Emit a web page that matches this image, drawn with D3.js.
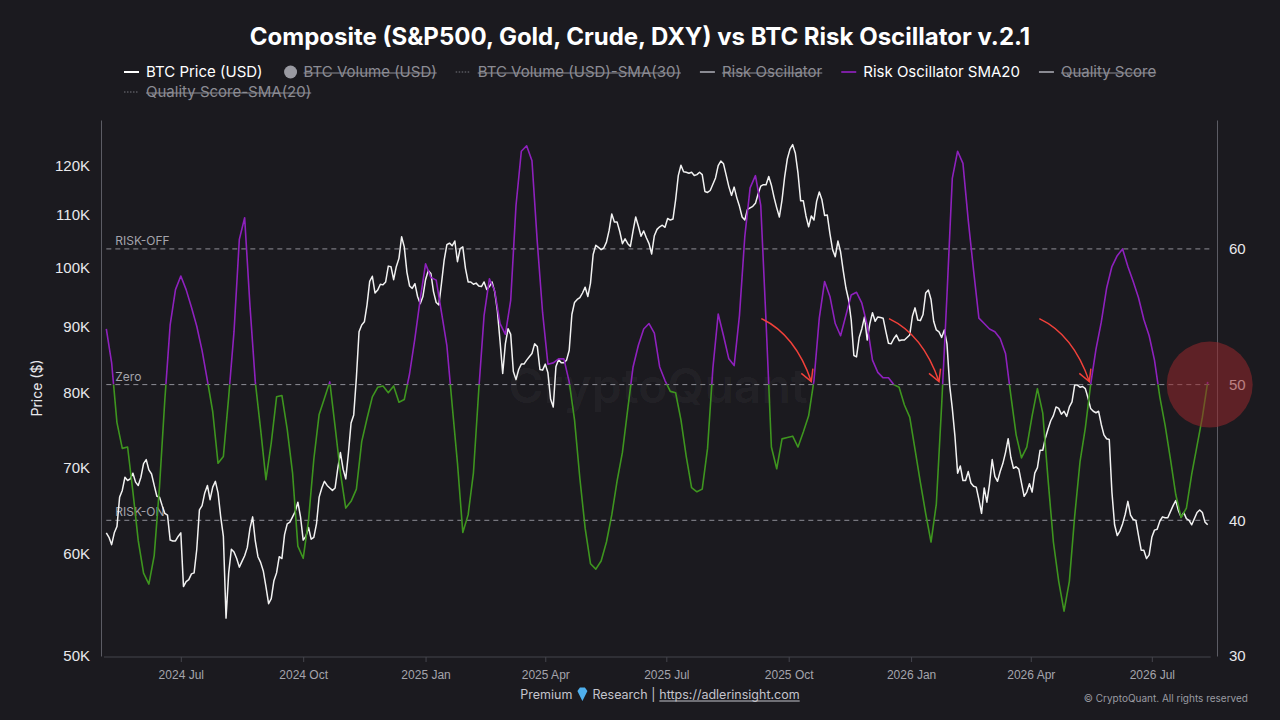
<!DOCTYPE html>
<html>
<head>
<meta charset="UTF-8">
<title>Composite vs BTC Risk Oscillator</title>
<script src="https://cdn.jsdelivr.net/npm/d3@7"></script>
<style>
  html, body { margin: 0; padding: 0; background: #1b1a1f; }
  svg { display: block; font-family: Inter, "Noto Sans", sans-serif; }
</style>
</head>
<body>
<svg id="chart" width="1280" height="720"></svg>
<script>
// BTC sampled every 2 days, oscillator every 4 days, both from startDate
const startDate = "2024-05-06";
const btcStepDays = 2;
const oscStepDays = 4;

const btcPrice = [
  62300, 61800, 61000, 62300, 63000, 66400, 67200, 68800, 68400, 68600,
  69300, 68200, 67800, 68800, 70500, 71000, 69700, 69200, 67800, 66500,
  66400, 65400, 64500, 64300, 61500, 61400, 61400, 61900, 62300, 56600,
  57100, 57300, 57900, 58000, 60500, 64900, 65400, 66900, 67800, 66100,
  67600, 68300, 66900, 64100, 61900, 53500, 58000, 60500, 60200, 59500,
  58600, 59200, 59800, 60700, 62800, 64100, 61400, 59700, 59100, 58200,
  56600, 54900, 55400, 57200, 58000, 59700, 59500, 62100, 63300, 63500,
  64100, 64700, 65800, 64100, 61500, 61900, 62900, 61600, 61800, 63300,
  66400, 67500, 68300, 67800, 67500, 67200, 67500, 69900, 71900, 69800,
  68600, 71800, 75800, 76900, 82200, 89200, 90300, 90800, 93600, 97600,
  98500, 95600, 96100, 97100, 97000, 97500, 100300, 100200, 97900, 100200,
  101700, 105700, 103800, 99200, 96800, 96400, 97200, 95000, 93800, 95000,
  97900, 99500, 99000, 95800, 94000, 93600, 97300, 101400, 104200, 104500,
  104000, 104900, 101100, 103500, 103800, 99900, 97500, 97500, 97100, 97300,
  96800, 96700, 97500, 96200, 96700, 97500, 95800, 92600, 87700, 82800,
  87300, 89700, 88800, 83100, 81900, 83400, 84200, 84200, 84800, 85300,
  85800, 87300, 86900, 83400, 83300, 84200, 82900, 79100, 78000, 83800,
  84900, 84400, 84400, 84800, 86300, 92000, 94000, 94500, 94800, 95600,
  96600, 95000, 97300, 102400, 104100, 103700, 103300, 103600, 104700, 106900,
  110100, 108500, 108500, 106700, 104400, 105300, 104400, 103900, 106800, 109500,
  107700, 105800, 106800, 105500, 104400, 102500, 105900, 107100, 107600, 107900,
  107500, 109200, 108900, 109100, 112900, 117900, 120100, 118700, 118600, 118400,
  118600, 117900, 118100, 118600, 118100, 114600, 114400, 114800, 116100, 117400,
  120000, 121000, 120400, 118000, 115600, 113800, 115500, 113300, 111600, 109500,
  108900, 111000, 111300, 111600, 112200, 114100, 115700, 116000, 116000, 117700,
  115900, 113400, 111300, 109500, 112900, 117700, 121500, 123600, 124600, 122700,
  118400, 112700, 112700, 109700, 107600, 109700, 108900, 112600, 114500, 112900,
  109800, 109900, 106300, 103300, 102000, 104900, 102900, 99500, 96500, 94500,
  91100, 85500, 85300, 88300, 89700, 91600, 87900, 90500, 92300, 90900,
  91600, 91500, 91400, 89300, 87400, 87300, 88100, 88700, 87800, 87900,
  87900, 88300, 88700, 91700, 93100, 91100, 91000, 92000, 95600, 96100,
  94500, 90900, 89500, 89200, 88300, 89500, 87300, 81100, 77800, 74000,
  69300, 70200, 68400, 68400, 69500, 68100, 67700, 67600, 66100, 64500,
  67500, 65800, 68000, 71000, 68900, 68300, 69500, 70500, 71900, 73700,
  71300, 69900, 70100, 69800, 68100, 66500, 67000, 68000, 67000, 69300,
  70000, 72200, 72200, 73800, 75000, 76100, 76800, 78000, 77800, 77000,
  77400, 76700, 78000, 78700, 81100, 81100, 80800, 80900, 80600, 79300,
  77800, 77400, 77200, 77400, 75600, 74200, 73700, 73600, 67000, 63200,
  62000, 62500, 63300, 64400, 65900, 64300, 63800, 63700, 62000, 60400,
  60400, 59500, 59900, 61800, 62600, 62700, 63600, 64100, 64000, 64000,
  64700, 65400, 66000, 64800, 64100, 64600, 63900, 63700, 63200, 63900,
  64600, 64900, 64600, 63500, 63200
];

const riskOscSma20 = [
  54.1, 51.6, 47.2, 45.3, 45.4, 42.1, 38.5, 36.1, 35.3, 37.4,
  42.5, 48.9, 54.4, 57.0, 58.0, 57.0, 55.7, 54.3, 52.5, 50.3,
  48.0, 44.2, 44.7, 49.1, 53.9, 60.7, 62.3, 55.8, 50.2, 46.7,
  43.0, 45.7, 49.1, 49.2, 46.7, 43.5, 38.1, 37.2, 40.0, 44.5,
  47.8, 49.0, 50.2, 46.9, 43.5, 40.9, 41.4, 42.3, 45.8, 47.5,
  49.1, 49.8, 49.9, 49.4, 49.9, 48.7, 48.9, 50.8, 53.4, 56.3,
  58.9, 57.9, 57.7, 55.3, 52.9, 48.5, 44.2, 39.1, 40.4, 43.5,
  49.6, 55.1, 57.8, 56.9, 54.5, 53.7, 56.2, 63.2, 67.2, 67.6,
  66.5, 60.5, 55.3, 51.5, 51.6, 51.9, 51.9, 50.2, 47.4, 43.1,
  39.4, 36.8, 36.4, 37.0, 38.4, 40.4, 42.9, 45.0, 48.2, 51.3,
  52.9, 54.1, 54.5, 53.8, 51.3, 50.3, 49.5, 49.4, 47.4, 44.7,
  42.4, 42.1, 42.3, 45.3, 51.2, 55.2, 53.6, 51.9, 51.4, 55.1,
  60.9, 64.5, 65.4, 63.2, 54.6, 45.4, 43.8, 46.0, 46.1, 46.2,
  45.4, 46.5, 47.7, 50.3, 54.9, 57.6, 56.5, 54.5, 53.6, 55.1,
  56.6, 56.8, 56.0, 54.4, 51.8, 50.9, 50.5, 50.5, 50.0, 49.8,
  48.5, 47.6, 45.2, 42.8, 40.5, 38.4, 41.2, 48.5, 56.6, 65.2,
  67.2, 66.3, 62.1, 58.4, 54.9, 54.5, 54.1, 53.9, 53.4, 52.3,
  49.2, 46.3, 44.6, 45.4, 47.7, 49.7, 47.9, 43.0, 38.4, 35.5,
  33.3, 35.5, 40.3, 44.3, 46.8, 50.0, 52.6, 54.6, 57.1, 58.7,
  59.5, 60.0, 58.7, 57.6, 56.4, 54.8, 53.6, 51.8, 49.1, 47.0,
  44.5, 41.9, 40.2, 40.9, 43.4, 45.5, 47.6, 50.2
];

const priceTicks = [50000, 60000, 70000, 80000, 90000, 100000, 110000, 120000];
const oscTicks = [30, 40, 50, 60];
const dateTicks = ["2024-07-01", "2024-10-01", "2025-01-01", "2025-04-01", "2025-07-01",
                   "2025-10-01", "2026-01-01", "2026-04-01", "2026-07-01"];

const levelValues = [60, 50, 40];
const levelLabels = ["RISK-OFF", "Zero", "RISK-ON"];

// dates where the red arrows point at the zero line
const arrowDates = ["2025-10-18", "2026-01-22", "2026-05-15"];

const legendNames = ["BTC Price (USD)", "BTC Volume (USD)", "BTC Volume (USD)-SMA(30)",
                     "Risk Oscillator", "Risk Oscillator SMA20", "Quality Score", "Quality Score-SMA(20)"];
const legendKinds = ["line", "dot", "dots", "line", "line", "line", "dots"];
const legendOn = [true, false, false, false, true, false, false];

const titleText = "Composite (S&P500, Gold, Crude, DXY) vs BTC Risk Oscillator v.2.1";

// ---------------------------------------------------------------
const svg = d3.select("#chart");
const L = 101, R = 1217, T = 120, B = 656;
const PURPLE = "#8e21bd", GREEN = "#3e951f", WHITE = "#f2f2f2";

const parseDate = d3.utcParse("%Y-%m-%d");
const t0 = parseDate(startDate);
const btcData = btcPrice.map((v, i) => ({ date: d3.utcDay.offset(t0, i * btcStepDays), v: v }));
const oscData = riskOscSma20.map((v, i) => ({ date: d3.utcDay.offset(t0, i * oscStepDays), v: v }));
const lastDate = btcData[btcData.length - 1].date;

const x = d3.scaleUtc().domain([parseDate("2024-05-02"), parseDate("2026-08-19")]).range([L, R]);
const yL = d3.scaleLog().domain([50000, 130200]).range([B, T]);
const yR = d3.scaleLinear().domain([30, 69.5]).range([B, T]);

svg.append("rect").attr("width", 1280).attr("height", 720).attr("fill", "#1b1a1f");

// title
svg.append("text")
  .attr("x", 640).attr("y", 45)
  .attr("text-anchor", "middle")
  .attr("font-size", 24).attr("font-weight", 700)
  .attr("fill", "#ffffff")
  .text(titleText);

// legend
const legend = svg.append("g");
let lx = 124, ly = 72;
legendNames.forEach((name, i) => {
  const g = legend.append("g");
  const on = legendOn[i];
  const kind = legendKinds[i];
  let mcol = on ? (i === 4 ? "#7b1fa2" : "#ffffff") : "#8a8a92";
  const t = g.append("text")
    .attr("y", ly).attr("dy", "0.35em")
    .attr("font-size", 15)
    .attr("fill", on ? "#ffffff" : "#8c8c94")
    .text(name);
  const w = t.node().getComputedTextLength();
  if (lx + 22 + w > 1175) { lx = 124; ly += 20; t.attr("y", ly); }
  t.attr("x", lx + 22);
  if (kind === "line") {
    g.append("line").attr("x1", lx).attr("x2", lx + 15).attr("y1", ly).attr("y2", ly)
      .attr("stroke", mcol).attr("stroke-width", 2);
  } else if (kind === "dot") {
    g.append("circle").attr("cx", lx + 9).attr("cy", ly).attr("r", 6.5).attr("fill", "#9a9aa2");
  } else {
    g.append("line").attr("x1", lx).attr("x2", lx + 15).attr("y1", ly).attr("y2", ly)
      .attr("stroke", "#77777f").attr("stroke-width", 1).attr("stroke-dasharray", "1.5,1.5");
  }
  if (!on) {
    g.append("line").attr("x1", lx + 22).attr("x2", lx + 22 + w)
      .attr("y1", ly + 1).attr("y2", ly + 1)
      .attr("stroke", "#8c8c94").attr("stroke-width", 1);
  }
  lx += 22 + w + 19;
});

// watermark
svg.append("text")
  .attr("x", 658).attr("y", 403)
  .attr("text-anchor", "middle")
  .attr("font-size", 48).attr("font-weight", 600)
  .attr("fill", "#ffffff").attr("fill-opacity", 0.045)
  .text("CryptoQuant");

// axes
const axL = svg.append("g").attr("transform", `translate(${L},0)`)
  .call(d3.axisLeft(yL).tickValues(priceTicks).tickFormat(d => (d / 1000) + "K")
    .tickSize(0).tickPadding(11));
axL.select(".domain").attr("stroke", "#5c5c64");
axL.selectAll("text").attr("font-size", 15).attr("fill", "#e8e8ec").attr("font-family", null);

const axR = svg.append("g").attr("transform", `translate(${R},0)`)
  .call(d3.axisRight(yR).tickValues(oscTicks).tickSize(0).tickPadding(12));
axR.select(".domain").attr("stroke", "#5c5c64");
axR.selectAll("text").attr("font-size", 15).attr("fill", "#e8e8ec").attr("font-family", null);

const axB = svg.append("g").attr("transform", `translate(0,${B + 1})`)
  .call(d3.axisBottom(x).tickValues(dateTicks.map(parseDate))
    .tickFormat(d3.utcFormat("%Y %b")).tickSize(5).tickSizeOuter(0).tickPadding(8));
axB.select(".domain").attr("stroke", "#45454d").attr("d", `M${L + 3},0H${x(lastDate) + 3}`);
axB.selectAll(".tick line").attr("stroke", "#45454d");
axB.selectAll("text").attr("font-size", 12).attr("fill", "#a4a4ac").attr("font-family", null);

svg.append("text")
  .attr("transform", `translate(42,${(T + B) / 2}) rotate(-90)`)
  .attr("text-anchor", "middle")
  .attr("font-size", 14).attr("fill", "#e8e8ec")
  .text("Price ($)");

// level lines
const x0 = x(btcData[0].date), x1 = x(lastDate) + 3;
levelValues.forEach((v, i) => {
  svg.append("line")
    .attr("x1", x0).attr("x2", x1)
    .attr("y1", yR(v)).attr("y2", yR(v))
    .attr("stroke", "#8e8e96").attr("stroke-width", 1)
    .attr("stroke-dasharray", "5,4");
  svg.append("text")
    .attr("x", x0 + 9).attr("y", yR(v) - 4)
    .attr("font-size", 12).attr("fill", "#a4a4ac")
    .text(levelLabels[i]);
});

// BTC price
svg.append("path")
  .datum(btcData)
  .attr("fill", "none")
  .attr("stroke", WHITE).attr("stroke-width", 1.5)
  .attr("stroke-linejoin", "round")
  .attr("d", d3.line().x(d => x(d.date)).y(d => yL(d.v)));

// oscillator, purple above 50, green below
const defs = svg.append("defs");
defs.append("clipPath").attr("id", "clipAbove").append("rect")
  .attr("x", L).attr("y", T - 5).attr("width", R - L).attr("height", yR(50) - T + 5);
defs.append("clipPath").attr("id", "clipBelow").append("rect")
  .attr("x", L).attr("y", yR(50)).attr("width", R - L).attr("height", B - yR(50) + 5);

const oscLine = d3.line().x(d => x(d.date)).y(d => yR(d.v));
[["clipAbove", PURPLE], ["clipBelow", GREEN]].forEach(([clip, col]) => {
  svg.append("path")
    .datum(oscData)
    .attr("clip-path", `url(#${clip})`)
    .attr("fill", "none")
    .attr("stroke", col).attr("stroke-width", 1.6)
    .attr("stroke-linejoin", "round")
    .attr("d", oscLine);
});

// red arrows
arrowDates.forEach(ds => {
  const tx = x(parseDate(ds)), ty = yR(50) - 3;
  const sx = tx - 50, sy = ty - 63, cx = tx - 16, cy = ty - 47;
  svg.append("path")
    .attr("d", `M${sx},${sy}Q${cx},${cy} ${tx},${ty}`)
    .attr("fill", "none").attr("stroke", "#f2413a").attr("stroke-width", 1.5);
  const ang = Math.atan2(ty - cy, tx - cx) + Math.PI;
  const len = 13;
  const a1 = ang - 0.55, a2 = ang + 0.45;
  svg.append("path")
    .attr("d", `M${tx + len * Math.cos(a1)},${ty + len * Math.sin(a1)}L${tx},${ty}L${tx + len * Math.cos(a2)},${ty + len * Math.sin(a2)}`)
    .attr("fill", "none").attr("stroke", "#f2413a").attr("stroke-width", 1.5);
});

// highlight circle at the latest value
svg.append("circle")
  .attr("cx", x(lastDate) + 2).attr("cy", yR(50))
  .attr("r", 43)
  .attr("fill", "rgb(150,40,44)").attr("fill-opacity", 0.55);

// footer
const foot = svg.append("g").attr("font-size", 12.5).attr("fill", "#c4c4cc");
const fy = 699;
const p1 = foot.append("text").attr("y", fy).text("Premium");
const p2 = foot.append("text").attr("y", fy).text("Research |");
const p3 = foot.append("text").attr("y", fy).text("https://adlerinsight.com");
const w1 = p1.node().getComputedTextLength();
const w2 = p2.node().getComputedTextLength();
const w3 = p3.node().getComputedTextLength();
const gemW = 12, gap = 4;
const total = w1 + gap + gemW + gap + w2 + gap + w3;
let fx = 660 - total / 2;
p1.attr("x", fx); fx += w1 + gap;
foot.append("path")
  .attr("transform", `translate(${fx + gemW / 2},${fy - 5})`)
  .attr("d", "M-5,-3L-2.5,-6.5L2.5,-6.5L5,-3L0,7Z")
  .attr("fill", "#4fb0ee");
fx += gemW + gap;
p2.attr("x", fx); fx += w2 + gap;
p3.attr("x", fx);
foot.append("line").attr("x1", fx).attr("x2", fx + w3).attr("y1", fy + 2).attr("y2", fy + 2)
  .attr("stroke", "#c4c4cc").attr("stroke-width", 1);

svg.append("text")
  .attr("x", 1248).attr("y", 702)
  .attr("text-anchor", "end")
  .attr("font-size", 10).attr("fill", "#9a9aa2")
  .text("© CryptoQuant. All rights reserved");
</script>
</body>
</html>
